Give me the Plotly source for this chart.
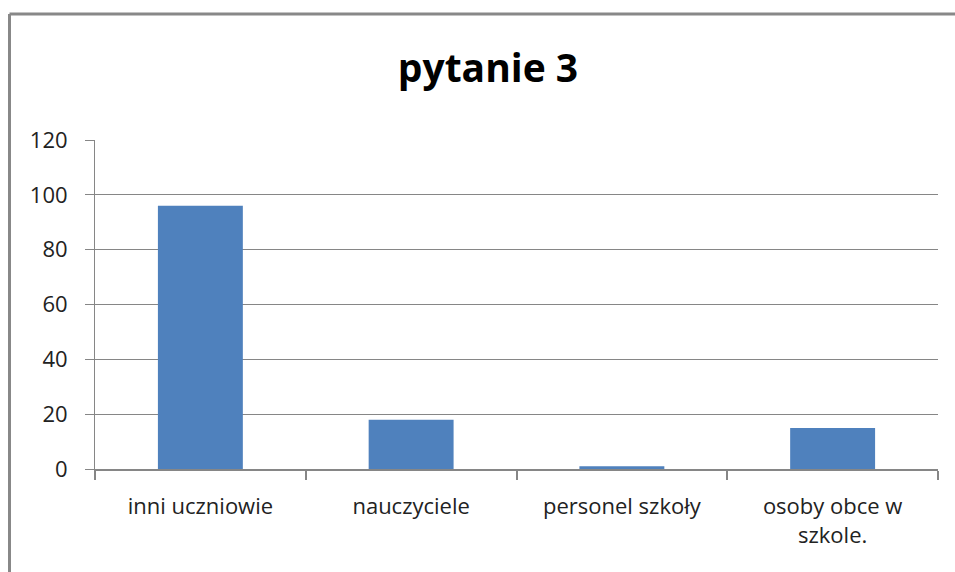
import plotly.graph_objects as go

categories = ["inni uczniowie", "nauczyciele", "personel szkoły", "osoby obce w<br>szkole."]
values = [96, 18, 1, 15]
y_ticks = [0, 20, 40, 60, 80, 100, 120]

W, H = 955, 572
L, R, T, B = 95, 17, 140, 103
pw, ph = W - L - R, H - T - B

def px_x(x):
    return (x - L) / pw

def px_y(y):
    return (H - B - y) / ph

fig = go.Figure(go.Bar(
    x=categories, y=values,
    marker=dict(color="#4F81BD", line=dict(width=0)),
    hoverinfo="x+y",
))

grid = "#868686"
txt = "#222222"
fig.update_layout(
    width=W, height=H,
    margin=dict(l=L, r=R, t=T, b=B),
    paper_bgcolor="white", plot_bgcolor="white",
    bargap=0.597,
    showlegend=False,
    font=dict(family="Open Sans", color=txt),
    title=dict(text="<b>pytanie 3</b>", x=px_x(488), xref="paper", xanchor="center",
               y=1 - 68 / H, yanchor="middle",
               font=dict(family="Open Sans", size=39, color="black")),
    xaxis=dict(type="category", showline=True, linecolor=grid, linewidth=2,
               ticks="outside", ticklen=9, tickcolor=grid, tickwidth=2,
               tickson="boundaries", showgrid=False,
               tickfont=dict(size=22, color=txt), ticklabelstandoff=17),
    yaxis=dict(range=[0, 120], tickvals=y_ticks, showline=True, linecolor=grid, linewidth=1,
               ticks="outside", ticklen=9, tickcolor=grid, showgrid=True,
               gridcolor=grid, gridwidth=1, zeroline=False,
               tickfont=dict(size=22, color=txt), ticklabelstandoff=13),
    shapes=[
        dict(type="line", xref="paper", yref="paper", x0=px_x(9.5), x1=px_x(960),
             y0=px_y(14), y1=px_y(14), line=dict(color="#888888", width=3)),
        dict(type="line", xref="paper", yref="paper", x0=px_x(9.5), x1=px_x(9.5),
             y0=px_y(14), y1=px_y(580), line=dict(color="#888888", width=3)),
    ],
)

fig.write_html("out.html", config={"displayModeBar": False},
               post_script="document.body.style.margin='0';")
